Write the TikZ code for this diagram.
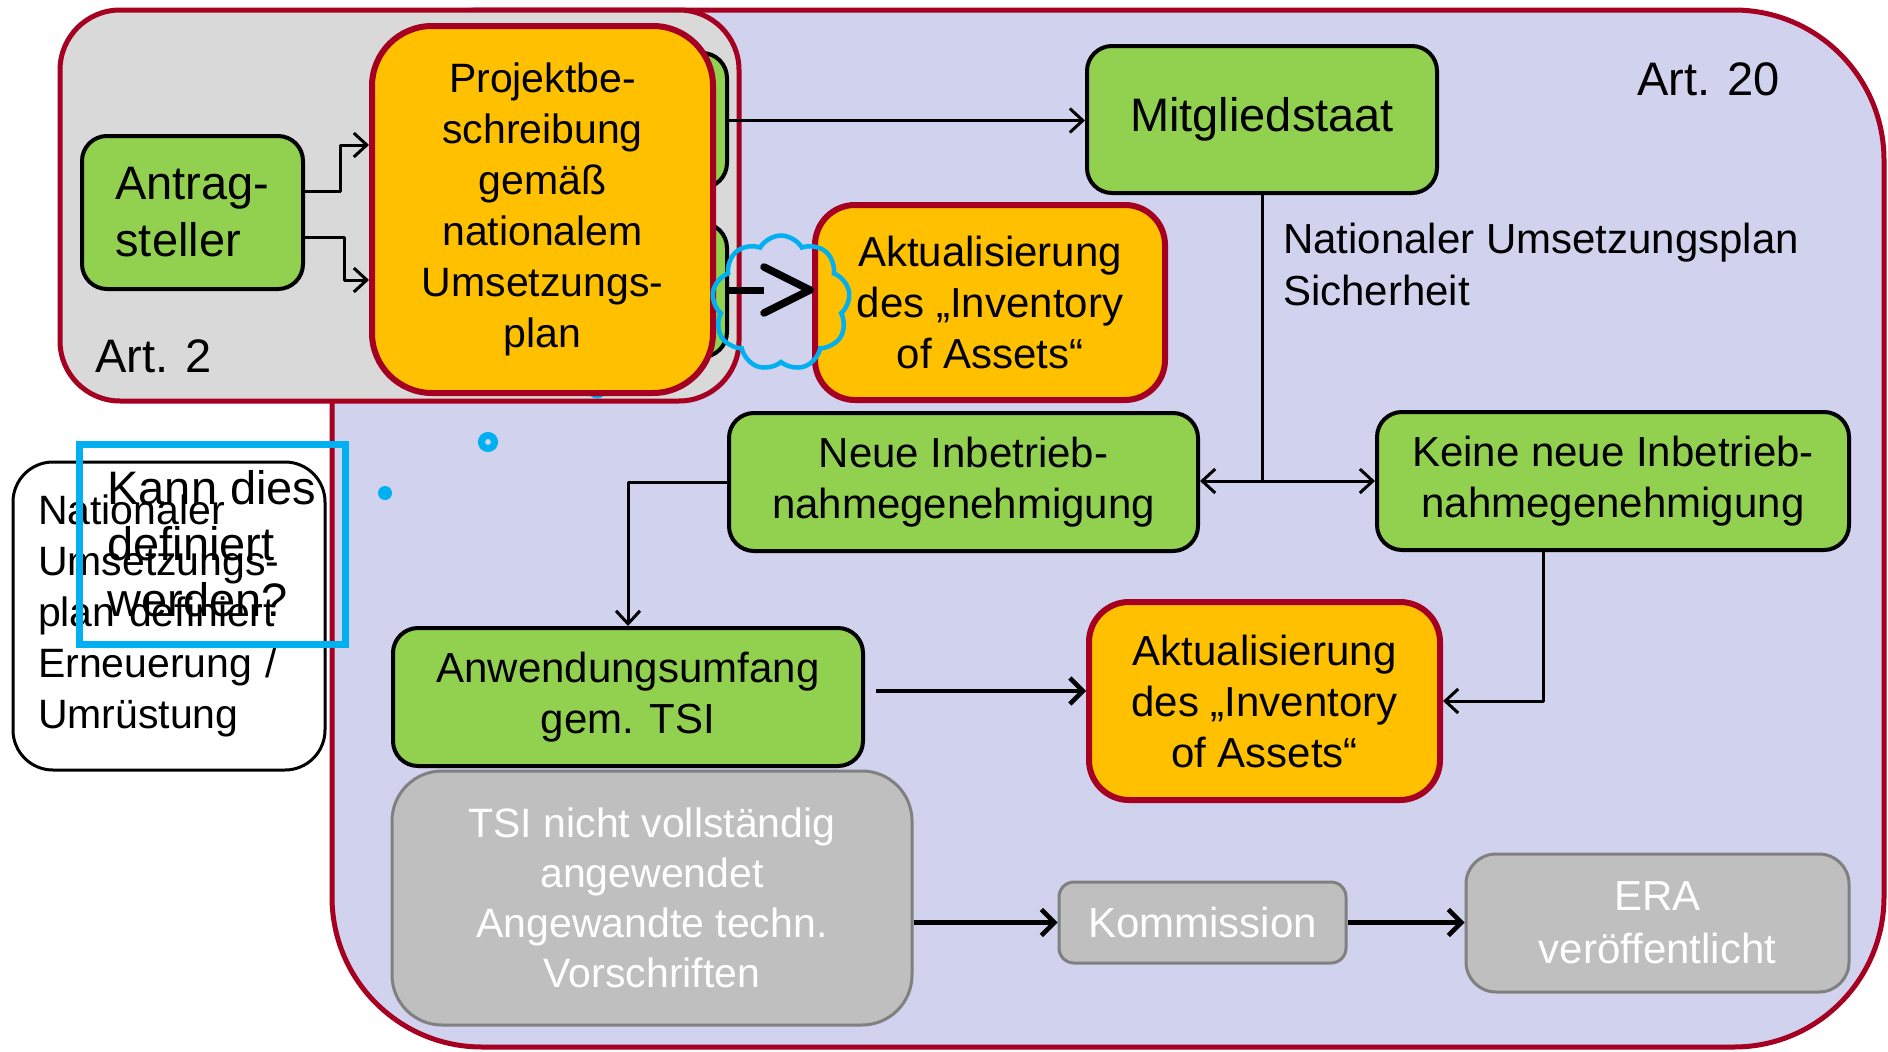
\documentclass[tikz,border=0pt]{standalone}
\usepackage{fontspec}
\setmainfont{Liberation Sans}
\usetikzlibrary{arrows.meta,shapes.symbols,calc}
\definecolor{lav}{RGB}{208,210,238}
\definecolor{darkred}{RGB}{165,0,33}
\definecolor{boxgreen}{RGB}{146,208,80}
\definecolor{boxorange}{RGB}{255,192,0}
\definecolor{lightgraytwo}{RGB}{217,217,217}
\definecolor{midgray}{RGB}{191,191,191}
\definecolor{bordgray}{RGB}{128,128,128}
\definecolor{cyanc}{RGB}{0,176,240}
\newcommand\fsA{\fontsize{42}{51}\selectfont}
\newcommand\fsB{\fontsize{47}{57}\selectfont}
\begin{document}
\begin{tikzpicture}[x=1pt,y=-1pt,
  greenbox/.style={draw=black, line width=4pt, fill=boxgreen, rounded corners=25pt, align=center, inner sep=0pt, font=\fsA},
  orangebox/.style={draw=darkred, line width=6pt, fill=boxorange, rounded corners=40pt, align=center, inner sep=0pt, font=\fsA},
  graybox/.style={draw=bordgray, line width=3pt, fill=midgray, rounded corners=30pt, align=center, inner sep=0pt, font=\fsA, text=white},
  conn/.style={line width=3pt, line join=round, -{Straight Barb[length=13pt,width=24pt]}},
  thickconn/.style={line width=4.5pt, line join=round, -{Straight Barb[length=13pt,width=26pt]}},
  plainline/.style={line width=3pt},
  lbl/.style={inner sep=0pt, anchor=base west}]
\useasboundingbox (0,0) rectangle (1888,1052);
% containers
\draw[draw=darkred, line width=5pt, fill=lav, rounded corners=150pt] (332,10) rectangle (1884,1047);
\draw[draw=darkred, line width=5pt, fill=lightgraytwo, rounded corners=60pt] (60,10) rectangle (739,401);
% hidden green boxes behind project box
\node[greenbox, minimum width=167pt, minimum height=135pt] (g1) at (643.5,120.5) {};
\node[greenbox, minimum width=167pt, minimum height=134pt] (g2) at (643.5,290) {};
\node[circle, draw=cyanc, line width=5pt, minimum size=14pt, inner sep=0pt] (c3) at (597,389) {};
% main nodes
\node[orangebox, rounded corners=60pt, minimum width=341pt, minimum height=367pt, font=\fontsize{41}{51}\selectfont] (proj) at (542.5,209.5) {Projektbe-\\schreibung\\gemäß\\nationalem\\Umsetzungs-\\plan};
\node[greenbox, align=left, minimum width=221pt, minimum height=153pt, font=\fsB] (antr) at (192.5,212.5) {Antrag-\\steller};
\node[greenbox, minimum width=350pt, minimum height=147pt, font=\fsB] (mit) at (1262,119.5) {Mitgliedstaat};
\node[orangebox, minimum width=350pt, minimum height=195pt] (akt1) at (990,302.5) {Aktualisierung\\des „Inventory\\of Assets“};
\node[greenbox, minimum width=469pt, minimum height=138pt] (neue) at (963.5,482) {Neue Inbetrieb-\\nahmegenehmigung};
\node[greenbox, minimum width=472pt, minimum height=138pt] (keine) at (1613,481) {Keine neue Inbetrieb-\\nahmegenehmigung};
\node[greenbox, minimum width=470pt, minimum height=138pt] (anw) at (628,697) {Anwendungsumfang\\gem. TSI};
\node[orangebox, minimum width=351pt, minimum height=198pt] (akt2) at (1264.5,701) {Aktualisierung\\des „Inventory\\of Assets“};
\node[graybox, rounded corners=50pt, minimum width=520pt, minimum height=254pt, font=\fontsize{41}{50}\selectfont] (tsi) at (652,898) {TSI nicht vollständig\\angewendet\\Angewandte techn.\\Vorschriften};
\node[graybox, rounded corners=15pt, minimum width=287pt, minimum height=81pt] (kom) at (1202.5,922.5) {Kommission};
\node[graybox, minimum width=383pt, minimum height=138pt, font=\fontsize{42}{53}\selectfont] (era) at (1657.5,923) {ERA\\veröffentlicht};
% labels
\node[lbl, font=\fsB] (art2) at (95,372) {Art. 2};
\node[lbl, font=\fsB] (art20) at (1637,95) {Art. 20};
\node[lbl, font=\fsA] (nat1) at (1283,253) {Nationaler Umsetzungsplan};
\node[lbl, font=\fsA] (nat2) at (1283,305) {Sicherheit};
% connectors
\draw[conn] ($(antr.east)+(0,-21.5)$) -- ++(35,0) |- ($(proj.west)+(0,-64.5)$);
\draw[conn] ($(antr.east)+(0,24.5)$) -- ++(39,0) |- ($(proj.west)+(0,70.5)$);
\draw[conn] (g1.east) -- (g1.east -| mit.west);
\coordinate (j) at (mit.south |- keine.west);
\draw[plainline] (mit.south) -- (j);
\draw[conn] (j) -- (j -| neue.east);
\draw[conn] (j) -- (keine.west);
\draw[conn] (neue.west) -| (anw.north);
\coordinate (a0) at ($(anw.east)+(11,-6)$);
\draw[thickconn] (a0) -- (a0 -| akt2.west);
\draw[conn] ($(keine.south)+(-70,0)$) |- (akt2.east);
\draw[thickconn] (tsi.east |- kom.west) -- (kom.west);
\draw[thickconn] (kom.east) -- (kom.east -| era.west);
% thick chevron arrow and cloud
\coordinate (chev) at ($(akt1.west |- g2.east)+(-2,0)$);
\draw[line width=7pt] (g2.east) -- ($(chev)+(-46,0)$);
\draw[line width=7.5pt, line cap=round, line join=round] ($(chev)+(-46,-23)$) -- (chev) -- ($(chev)+(-46,23)$);
\node[cloud, cloud puffs=9, cloud puff arc=120, aspect=1, draw=cyanc, line width=4.5pt, minimum width=138pt, minimum height=135pt] (cl) at (781,303) {};
% left side boxes
\node[draw=black, line width=3pt, fill=white, rounded corners=40pt, minimum width=312pt, minimum height=308pt, align=left, text width=262pt, inner sep=0pt, font=\fontsize{41}{51}\selectfont] (natbox) at (169,616) {Nationaler\\Umsetzungs-\\plan definiert\\Erneuerung /\\Umrüstung};
\node[draw=cyanc, line width=7pt, minimum width=266pt, minimum height=200pt, align=left, inner sep=0pt, font=\fontsize{47}{56}\selectfont] (q) at (212,544) {Kann dies\\definiert\\werden?};
\node[circle, draw=cyanc, line width=7pt, minimum size=13pt, inner sep=0pt] (ring) at (488,442) {};
\node[circle, fill=cyanc, minimum size=14pt, inner sep=0pt] (dot) at (385,493) {};
\end{tikzpicture}
\end{document}
